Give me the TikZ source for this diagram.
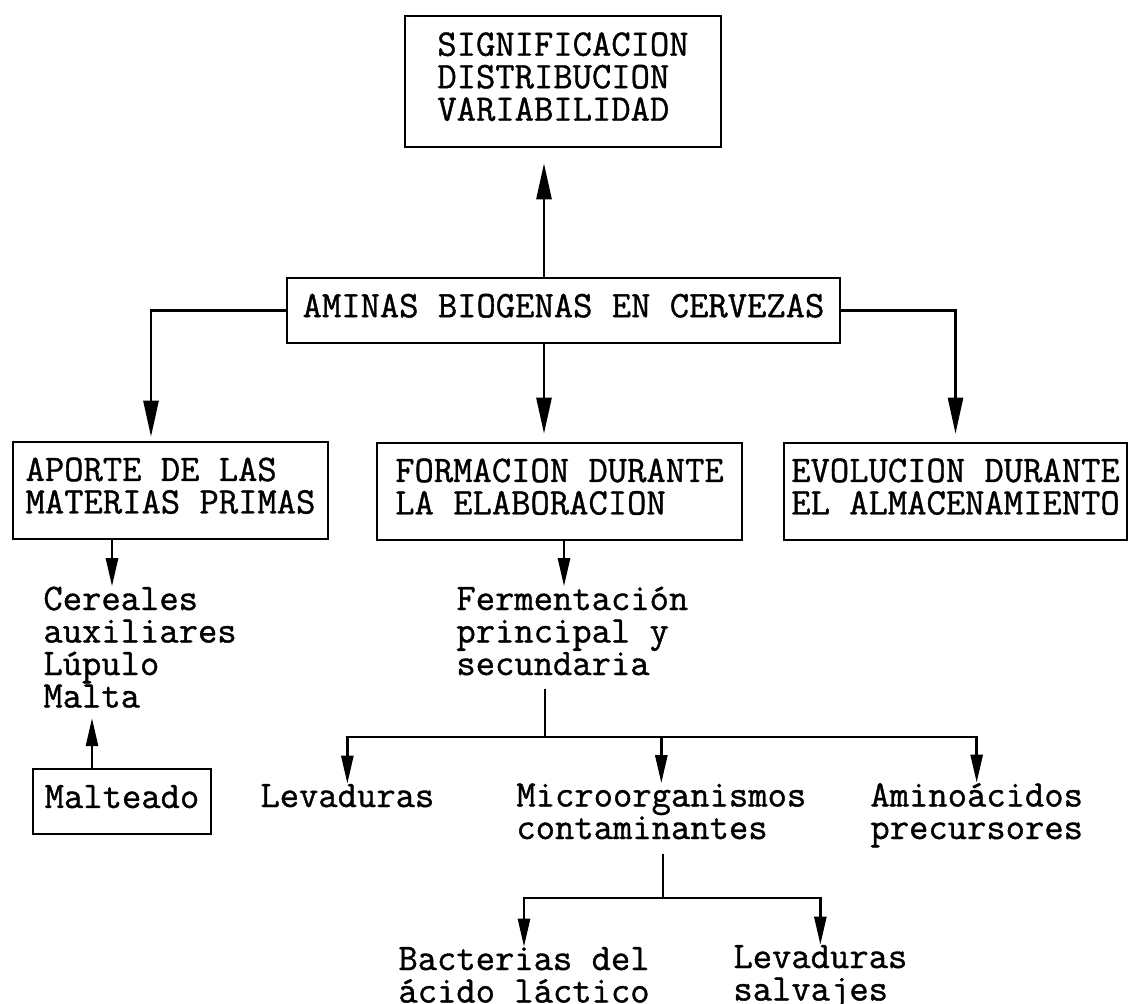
\documentclass[tikz,border=0pt]{standalone}
\usepackage{fontspec}
\usepackage{tikz}
\usetikzlibrary{arrows.meta}
\newfontfamily\maquina{Latin Modern Mono}[FakeBold=1]
\lineskiplimit=-8pt

\tikzset{
  caja/.style={draw, line width=1.3pt, align=left, inner sep=0pt, text depth=5pt},
  texto/.style={align=left, inner sep=0pt, anchor=base west},
  flecha/.style={line width=1.3pt, -{Triangle[length=18pt,width=7.5pt]}},
  flechita/.style={line width=1.3pt, -{Triangle[length=14pt,width=6pt]}},
}

\begin{document}
\begin{tikzpicture}[x=0.5pt, y=-0.5pt,
    font=\maquina\fontsize{18.76}{16.25}\selectfont]
    \useasboundingbox (0,0) rectangle (1129,1003);
    % cajas
    \node[caja, minimum width=158pt, minimum height=65.5pt] (sig) at (563,81.5)
        {SIGNIFICACION\\DISTRIBUCION\\VARIABILIDAD};
    \node[caja, minimum width=276.5pt, minimum height=32.5pt] (amin) at (563.5,310.5)
        {AMINAS BIOGENAS EN CERVEZAS};
    \node[caja, minimum width=157.5pt, minimum height=48.5pt] (aporte) at (170.5,490.5)
        {APORTE DE LAS\\MATERIAS PRIMAS};
    \node[caja, minimum width=182.5pt, minimum height=48.5pt] (formacion) at (559.5,491.5)
        {FORMACION DURANTE\\LA ELABORACION};
    \node[caja, minimum width=171.5pt, minimum height=48.5pt] (evolucion) at (955.5,491.5)
        {EVOLUCION DURANTE\\EL ALMACENAMIENTO};
    \node[caja, minimum width=89pt, minimum height=32.5pt] (malteado) at (122,801.5)
        {Malteado};
    % textos (base = ultima linea)
    \node[texto] (cereales) at (43,707.5) {Cereales\\auxiliares\\Lúpulo\\Malta};
    \node[texto] (ferment) at (456,675) {Fermentación\\principal y\\secundaria};
    \node[texto] (levad1) at (260,807) {Levaduras};
    \node[texto] (micro) at (516,839) {Microorganismos\\contaminantes};
    \node[texto] (amino) at (870,839) {Aminoácidos\\precursores};
    \node[texto] (bacter) at (398,1002.5) {Bacterias del\\ácido láctico};
    \node[texto] (levad2) at (733,1000.5) {Levaduras\\salvajes};
    % ejes y cruces
    \coordinate (eje) at (544,0);
    \coordinate (ejeA) at (151,0);
    \coordinate (ejeB) at (112,0);
    \coordinate (ejeC) at (92,0);
    \coordinate (ejeD) at (564,0);
    \coordinate (cruce1) at (545,737);
    \coordinate (cruce2) at (663,898);
    % flechas
    \draw[flecha, shorten >=7.5pt] (amin.north -| eje) -- (sig.south -| eje);
    \draw[flecha, shorten >=4pt] (amin.south -| eje) -- (formacion.north -| eje);
    \draw[flecha, shorten >=2pt] (amin.west) -| (aporte.north -| ejeA);
    \draw[flecha, shorten >=4pt] (amin.east) -| (evolucion.north);
    \draw[flechita] (aporte.south -| ejeB) -- (cereales.north -| ejeB);
    \draw[flechita, shorten >=5pt] (malteado.north -| ejeC) -- (cereales.south -| ejeC);
    \draw[flechita] (formacion.south -| ejeD) -- (ferment.north -| ejeD);
    \draw[line width=1.3pt, shorten <=6.5pt] (ferment.south -| cruce1) -- (cruce1);
    \draw[flechita] (cruce1) -| (levad1.north);
    \draw[flechita] (cruce1) -| (amino.north);
    \draw[flechita] (micro.north |- cruce1) -- (micro.north);
    \draw[line width=1.3pt, shorten <=7pt] (micro.south -| cruce2) -- (cruce2);
    \draw[flechita] (cruce2) -| (bacter.north);
    \draw[flechita] (cruce2) -| (levad2.north);
\end{tikzpicture}
\end{document}
